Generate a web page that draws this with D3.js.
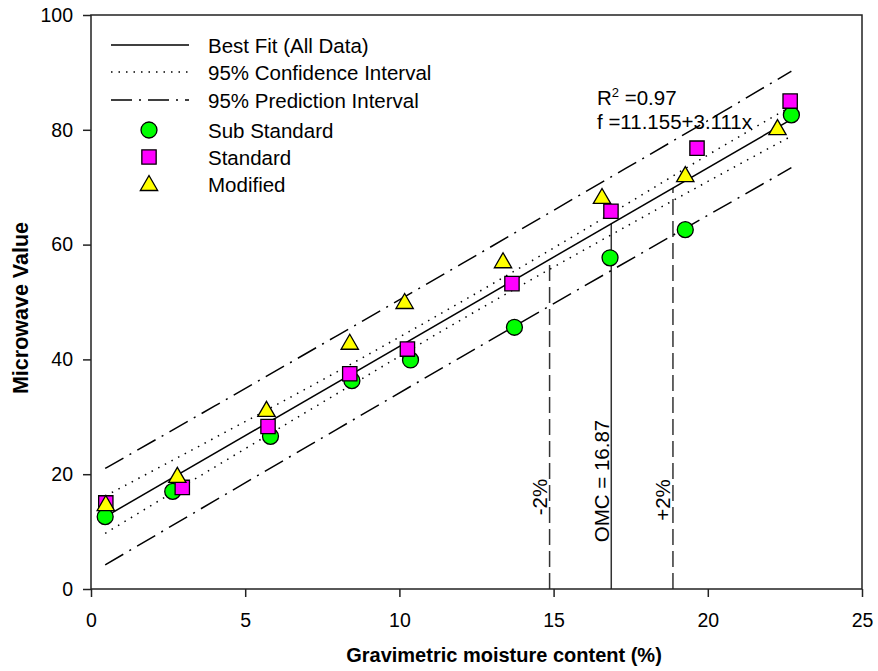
<!DOCTYPE html>
<html>
<head>
<meta charset="utf-8">
<script src="https://cdn.jsdelivr.net/npm/d3@7"></script>
<style>
  html, body { margin: 0; padding: 0; background: #fff; }
  svg text { font-family: Arial, "Liberation Sans", sans-serif; fill: #000; }
</style>
</head>
<body>
<svg id="chart" width="878" height="671"></svg>
<script>
// Moisture content (%) and microwave readings per compaction effort
const subStandardX = [0.46, 2.65, 5.82, 8.46, 10.36, 13.73, 16.83, 19.27, 22.71];
const subStandardY = [12.6, 17.0, 26.6, 36.3, 39.9, 45.6, 57.7, 62.6, 82.6];
const standardX = [0.48, 2.96, 5.74, 8.39, 10.26, 13.65, 16.86, 19.65, 22.67];
const standardY = [15.0, 17.7, 28.3, 37.5, 41.8, 53.2, 65.8, 76.8, 85.0];
const modifiedX = [0.48, 2.80, 5.69, 8.39, 10.17, 13.36, 16.57, 19.27, 22.26];
const modifiedY = [14.8, 19.7, 31.2, 42.9, 50.0, 57.1, 68.3, 72.1, 80.3];

// Regression fit (all data)
const fitIntercept = 11.155;
const fitSlope = 3.111;
const fitRange = [0.46, 22.71];
const rSquared = 0.97;

// Band limits at sampled moisture contents
const bandX = [0.46, 4, 8, 12, 16, 20, 22.71];
const confUpper = [16.2, 26.3, 37.9, 50.0, 62.6, 75.6, 84.1];
const confLower = [9.7, 21.2, 34.1, 46.9, 59.1, 71.0, 78.9];
const predUpper = [21.0, 31.85, 44.2, 56.6, 69.1, 81.6, 90.2];
const predLower = [4.2, 15.35, 27.9, 40.4, 52.8, 65.1, 73.4];

// Optimum moisture content and the ±2% window
const omc = 16.87;
const omcOffsets = [-2, 0, 2];
const omcLabels = ["-2%", "OMC = 16.87", "+2%"];

const xTicks = [0, 5, 10, 15, 20, 25];
const yTicks = [0, 20, 40, 60, 80, 100];

const legendLabels = ["Best Fit (All Data)", "95% Confidence Interval", "95% Prediction Interval",
                      "Sub Standard", "Standard", "Modified"];

const svg = d3.select("#chart");
const plotLeft = 91, plotRight = 862, plotTop = 15, plotBottom = 589;

const x = d3.scaleLinear().domain([0, 25]).range([plotLeft, plotRight]);
const y = d3.scaleLinear().domain([0, 100]).range([plotBottom, plotTop]);

const fit = v => fitIntercept + fitSlope * v;

// Vertical OMC markers (under everything else)
const vg = svg.append("g");
const omcLabelCenters = [497, 481, 500];
omcOffsets.forEach((off, i) => {
  const xv = omc + off;
  vg.append("line")
    .attr("x1", x(xv)).attr("x2", x(xv))
    .attr("y1", y(0)).attr("y2", y(fit(xv)))
    .attr("stroke", "#333").attr("stroke-width", 1.5)
    .attr("stroke-dasharray", off === 0 ? null : "16,6");
  vg.append("text")
    .attr("transform", `translate(${x(xv) - 2.5},${omcLabelCenters[i]}) rotate(-90)`)
    .attr("text-anchor", "middle")
    .attr("font-size", 20.5)
    .text(omcLabels[i]);
});

// Bands
const bandLine = arr => d3.line()
  .x((d, i) => x(bandX[i]))
  .y(d => y(d))
  .curve(d3.curveMonotoneX)(arr);

[confUpper, confLower].forEach(arr => {
  svg.append("path").attr("d", bandLine(arr))
    .attr("fill", "none").attr("stroke", "#000").attr("stroke-width", 1.5)
    .attr("stroke-dasharray", "1.5,6");
});
[predUpper, predLower].forEach(arr => {
  svg.append("path").attr("d", bandLine(arr))
    .attr("fill", "none").attr("stroke", "#000").attr("stroke-width", 1.5)
    .attr("stroke-dasharray", "21,7,2,7");
});

// Best fit line
svg.append("line")
  .attr("x1", x(fitRange[0])).attr("y1", y(fit(fitRange[0])))
  .attr("x2", x(fitRange[1])).attr("y2", y(fit(fitRange[1])))
  .attr("stroke", "#000").attr("stroke-width", 1.5);

// Markers
const circleSym = d3.symbol().type(d3.symbolCircle).size(200);
const squareSym = d3.symbol().type(d3.symbolSquare).size(205);
const triSym = d3.symbol().type(d3.symbolTriangle).size(130);

function drawSeries(xs, ys, sym, fill, dy) {
  svg.append("g").selectAll("path").data(xs).join("path")
    .attr("d", sym)
    .attr("transform", (d, i) => `translate(${x(d)},${y(ys[i]) + (dy || 0)})`)
    .attr("fill", fill).attr("stroke", "#000").attr("stroke-width", 1.3);
}
drawSeries(subStandardX, subStandardY, circleSym, "#00ff00");
drawSeries(standardX, standardY, squareSym, "#ff00ff");
drawSeries(modifiedX, modifiedY, triSym, "#ffff00", 1.5);

// Frame and axes
svg.append("rect")
  .attr("x", plotLeft).attr("y", plotTop)
  .attr("width", plotRight - plotLeft).attr("height", plotBottom - plotTop)
  .attr("fill", "none").attr("stroke", "#222").attr("stroke-width", 1.5);

const xAxis = svg.append("g").attr("transform", `translate(0,${plotBottom})`)
  .call(d3.axisBottom(x).tickValues(xTicks).tickSize(8).tickPadding(16).tickFormat(d3.format("d")));
const yAxis = svg.append("g").attr("transform", `translate(${plotLeft},0)`)
  .call(d3.axisLeft(y).tickValues(yTicks).tickSize(8).tickPadding(10).tickFormat(d3.format("d")));
[xAxis, yAxis].forEach(g => {
  g.select(".domain").remove();
  g.selectAll("line").attr("stroke", "#222").attr("stroke-width", 1.5);
  g.selectAll("text").attr("font-size", 19.5).attr("font-family", "Arial, 'Liberation Sans', sans-serif");
});

// Axis titles
svg.append("text")
  .attr("x", 504).attr("y", 662)
  .attr("text-anchor", "middle").attr("font-size", 20).attr("font-weight", "bold")
  .text("Gravimetric moisture content (%)");
svg.append("text")
  .attr("transform", `translate(28,308) rotate(-90)`)
  .attr("text-anchor", "middle").attr("font-size", 21.5).attr("font-weight", "bold")
  .text("Microwave Value");

// Regression annotation
const ann = svg.append("text").attr("x", 597).attr("y", 105).attr("font-size", 20.5);
ann.append("tspan").text("R");
ann.append("tspan").attr("font-size", 13).attr("dy", -8).text("2");
ann.append("tspan").attr("dy", 8).text(" =" + rSquared.toFixed(2));
svg.append("text").attr("x", 597).attr("y", 129).attr("font-size", 20.5)
  .text(`f =${fitIntercept}+${fitSlope}x`);

// Legend
const legendY = [45, 72, 100, 130, 157, 184];
const lg = svg.append("g");
const lineStyles = [null, "1.5,6", "21,7,2,7"];
lineStyles.forEach((dash, i) => {
  lg.append("line").attr("x1", 111).attr("x2", 189)
    .attr("y1", legendY[i]).attr("y2", legendY[i])
    .attr("stroke", "#000").attr("stroke-width", 1.5)
    .attr("stroke-dasharray", dash);
});
[[circleSym, "#00ff00", 0], [squareSym, "#ff00ff", 0], [triSym, "#ffff00", 1.5]].forEach((s, j) => {
  lg.append("path").attr("d", s[0])
    .attr("transform", `translate(149,${legendY[j + 3] + s[2]})`)
    .attr("fill", s[1]).attr("stroke", "#000").attr("stroke-width", 1.3);
});
legendLabels.forEach((t, i) => {
  lg.append("text").attr("x", 208).attr("y", legendY[i] + 8).attr("font-size", 20.5).text(t);
});
</script>
</body>
</html>
